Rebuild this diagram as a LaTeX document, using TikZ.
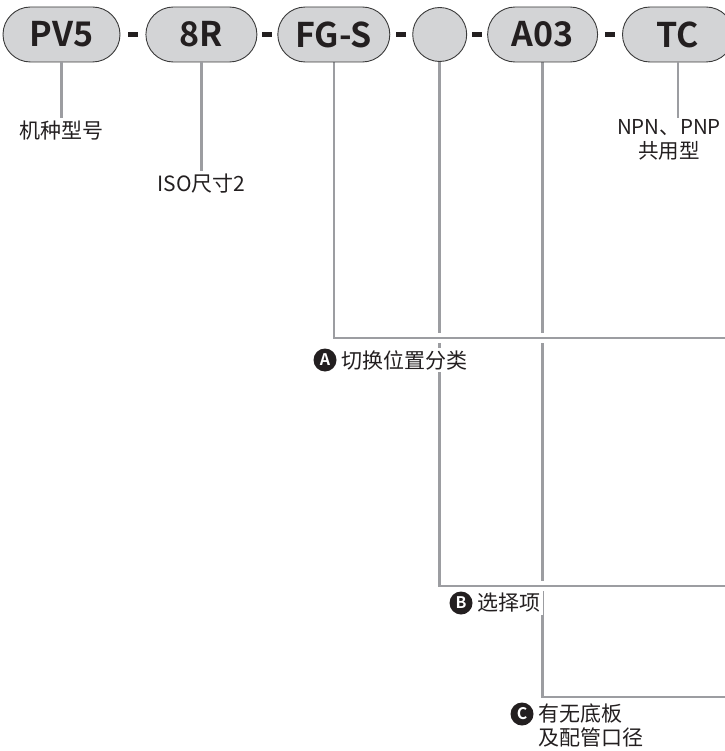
\documentclass[tikz,border=0pt]{standalone}
\usepackage{fontspec}
\setmainfont{Noto Sans CJK SC}[BoldFont={Noto Sans CJK SC Bold}]
\usetikzlibrary{positioning,calc,backgrounds}

\definecolor{pillgray}{HTML}{D3D4D6}
\definecolor{rimgray}{HTML}{3A3A3A}
\definecolor{leadgray}{HTML}{9C9DA1}
\definecolor{ink}{HTML}{231F20}

\tikzset{
  codebox/.style={draw=rimgray, line width=0.9pt, fill=pillgray,
    rounded corners=27.5pt, minimum height=55pt, inner sep=0pt,
    text=ink, font=\bfseries\fontsize{34}{36}\selectfont},
  blankbox/.style={draw=rimgray, line width=0.9pt, fill=pillgray,
    circle, minimum size=54pt, inner sep=0pt},
  hyph/.style={fill=ink, minimum width=10pt, minimum height=5pt, inner sep=0pt},
  lbl/.style={text=ink, fill=white, inner sep=2pt,
    font=\fontsize{21}{24}\selectfont},
  badge/.style={circle, fill=ink, text=white, minimum size=23pt, inner sep=0pt,
    font=\bfseries\fontsize{16}{16}\selectfont},
  leader/.style={draw=leadgray, line width=2.5pt},
  route/.style={leader, preaction={draw=white, line width=10pt}}
}

\begin{document}
\begin{tikzpicture}[x=1pt,y=-1pt]
  \useasboundingbox (0,0) rectangle (724,751);

  % model code
  \node[codebox, minimum width=117pt] (pv) at (61.5,34.5) {PV5};
  \node[codebox, minimum width=111pt, right=25pt of pv] (size) {8R};
  \node[codebox, minimum width=112pt, right=20pt of size] (fgs) {FG-S};
  \node[blankbox, right=22pt of fgs] (blank) {};
  \node[codebox, minimum width=110pt, right=20pt of blank] (aopt) {A03};
  \node[codebox, minimum width=111pt, right=24pt of aopt] (tc) {TC};
  \foreach \a/\b [count=\i] in {pv/size,size/fgs,fgs/blank,blank/aopt,aopt/tc}
    \node[hyph] (hy\i) at ($(\a.east)!.5!(\b.west)$) {};

  % short leaders
  \node[lbl, below=56pt of pv] (lmodel) {机种型号};
  \node[lbl, below=109pt of size] (lsize) {ISO尺寸2};
  \node[lbl, below=56pt of tc, xshift=-9pt, align=center, inner sep=1pt,
    font=\fontsize{20.5}{24}\selectfont] (ltc) {NPN、PNP\\共用型};
  \draw[leader] (pv.south) -- (lmodel.north);
  \draw[leader] (size.south) -- (lsize.north);
  \draw[leader] (tc.south) -- (tc.south |- ltc.north);

  % item labels
  \node[badge] (bA) at (325,360) {A};
  \node[lbl, right=3pt of bA] (lA) {切换位置分类};
  \node[badge] (bB) at (461,603) {B};
  \node[lbl, right=3pt of bB] (lB) {选择项};
  \node[badge] (bC) at (522,714) {C};
  \node[lbl, align=left, anchor=west] (lC) at ([xshift=3pt,yshift=-11.5pt]bC.east)
    {有无底板\\及配管口径};

  \coordinate (endA) at (730,338);
  \coordinate (endB) at (730,586);
  \coordinate (endC) at (730,697);

  \begin{scope}[on background layer]
    \draw[route] (aopt.south) |- (endC);
    \draw[route] (blank.south) |- (endB);
    \draw[route] (fgs.south) |- (endA);
  \end{scope}
\end{tikzpicture}
\end{document}
